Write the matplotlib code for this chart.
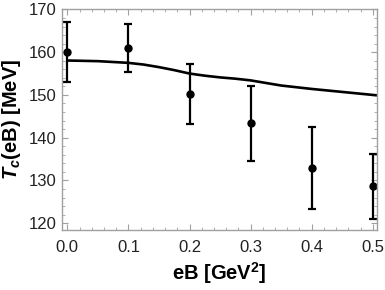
import matplotlib
matplotlib.use("Agg")
import matplotlib.pyplot as plt
from matplotlib.ticker import MultipleLocator

plt.rcParams['font.family'] = ['Liberation Sans', 'DejaVu Sans']
plt.rcParams['mathtext.fontset'] = 'custom'
plt.rcParams['mathtext.rm'] = 'Liberation Sans'
plt.rcParams['mathtext.it'] = 'Liberation Sans:italic:bold'
plt.rcParams['mathtext.bf'] = 'Liberation Sans:bold'

# data points with error bars
eB_pts = [0.0, 0.1, 0.2, 0.3, 0.4, 0.5]
Tc_pts = [160.0, 161.0, 150.2, 143.4, 132.9, 128.6]
Tc_err = [7.0, 5.6, 7.1, 8.8, 9.7, 7.6]

# model curve
eB_curve = [0.0, 0.05, 0.1, 0.125, 0.15, 0.175, 0.2, 0.225, 0.25, 0.275,
            0.3, 0.325, 0.35, 0.4, 0.45, 0.5, 0.507]
Tc_curve = [158.05, 157.9, 157.5, 157.1, 156.5, 155.8, 155.0, 154.5, 154.1, 153.8,
            153.4, 152.8, 152.2, 151.4, 150.7, 150.0, 149.9]

xticks = [0.0, 0.1, 0.2, 0.3, 0.4, 0.5]
yticks = [120, 130, 140, 150, 160, 170]

fig = plt.figure(figsize=(3.85, 2.9), dpi=100)
ax = fig.add_axes([62/385, 1-230/290, (377-62)/385, (230-9)/290])

ax.plot(eB_curve, Tc_curve, color='black', lw=1.9, solid_capstyle='butt')
ax.errorbar(eB_pts, Tc_pts, yerr=Tc_err, fmt='o', color='black', ms=5,
            elinewidth=1.6, capsize=3, capthick=1.6)

ax.set_xlim(-0.0088, 0.507)
ax.set_ylim(118.4, 170.1)
ax.set_xticks(xticks)
ax.set_xticklabels([f"{v:.1f}" for v in xticks])
ax.set_yticks(yticks)
ax.xaxis.set_minor_locator(MultipleLocator(0.02))
ax.yaxis.set_minor_locator(MultipleLocator(2))

gray = '#a0a0a0'
for s in ax.spines.values():
    s.set_color(gray)
    s.set_linewidth(1.0)
ax.tick_params(which='both', direction='in', top=True, right=True, color=gray,
               labelsize=12, labelcolor='#222222')
ax.tick_params(which='major', length=4, width=0.8, pad=4)
ax.tick_params(axis='x', which='major', pad=7)
ax.tick_params(which='minor', length=2.2, width=0.6)

ax.set_xlabel(r'eB [GeV$^{\mathbf{2}}$]', fontsize=14.5, fontweight='bold', labelpad=4)
ax.set_ylabel(r'$T_{\mathit{c}}$(eB) [MeV]', fontsize=14.5, fontweight='bold', labelpad=4)

fig.savefig('out.png', dpi=100)
